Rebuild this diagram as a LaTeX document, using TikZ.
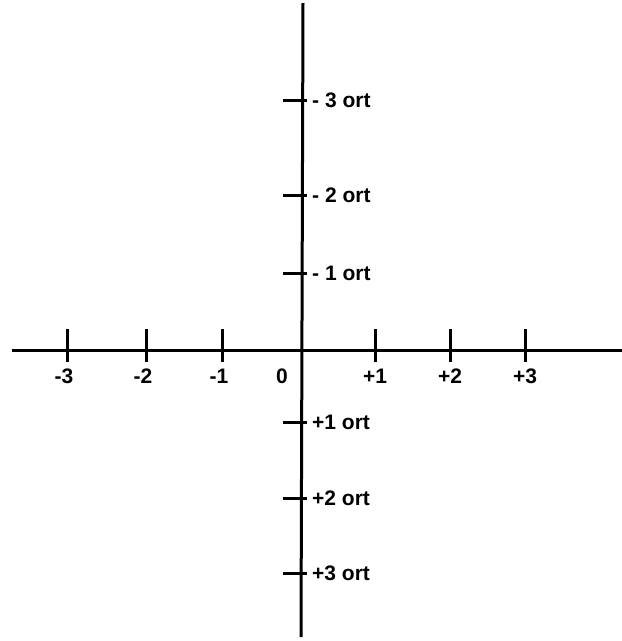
\documentclass[tikz,border=0pt]{standalone}
\usepackage{fontspec}
\setmainfont{Liberation Sans}
\begin{document}
\begin{tikzpicture}[x=1pt,y=-1pt,
  axisline/.style={line width=3pt},
  tickline/.style={line width=3pt},
  lab/.style={font=\fontsize{21}{21}\selectfont\bfseries, inner sep=0pt}]
\useasboundingbox (0,0) rectangle (622,641);
% axes
\coordinate (xl) at (12,350);
\coordinate (xr) at (622,350);
\coordinate (yt) at (303,3);
\coordinate (yb) at (301,637);
\draw[axisline] (xl) -- (xr);
\draw[axisline] (yt) -- (yb);
% horizontal ticks
\foreach \x/\n in {67/m3,146/m2,222/m1,375/p1,450/p2,525/p3}{
  \coordinate (ht\n) at (\x,329);
  \coordinate (hb\n) at (\x,362);
  \draw[tickline] (ht\n) -- (hb\n);
}
\node[lab] (lm3) at (64,376) {-3};
\node[lab] (lm2) at (143,376) {-2};
\node[lab] (lm1) at (219,376) {-1};
\node[lab] (l0)  at (282,376) {0};
\node[lab] (lp1) at (375,376) {+1};
\node[lab] (lp2) at (450,376) {+2};
\node[lab] (lp3) at (525,376) {+3};
% vertical ticks
\foreach \y/\n in {100/m3,195/m2,273/m1,422/p1,498/p2,573/p3}{
  \coordinate (vl\n) at (283,\y);
  \coordinate (vr\n) at (307,\y);
  \draw[tickline] (vl\n) -- (vr\n);
}
\node[lab,anchor=west] (om3) at (312,100) {- 3 ort};
\node[lab,anchor=west] (om2) at (312,195) {- 2 ort};
\node[lab,anchor=west] (om1) at (312,273) {- 1 ort};
\node[lab,anchor=west] (op1) at (312,422) {+1 ort};
\node[lab,anchor=west] (op2) at (312,498) {+2 ort};
\node[lab,anchor=west] (op3) at (312,573) {+3 ort};
\end{tikzpicture}
\end{document}
